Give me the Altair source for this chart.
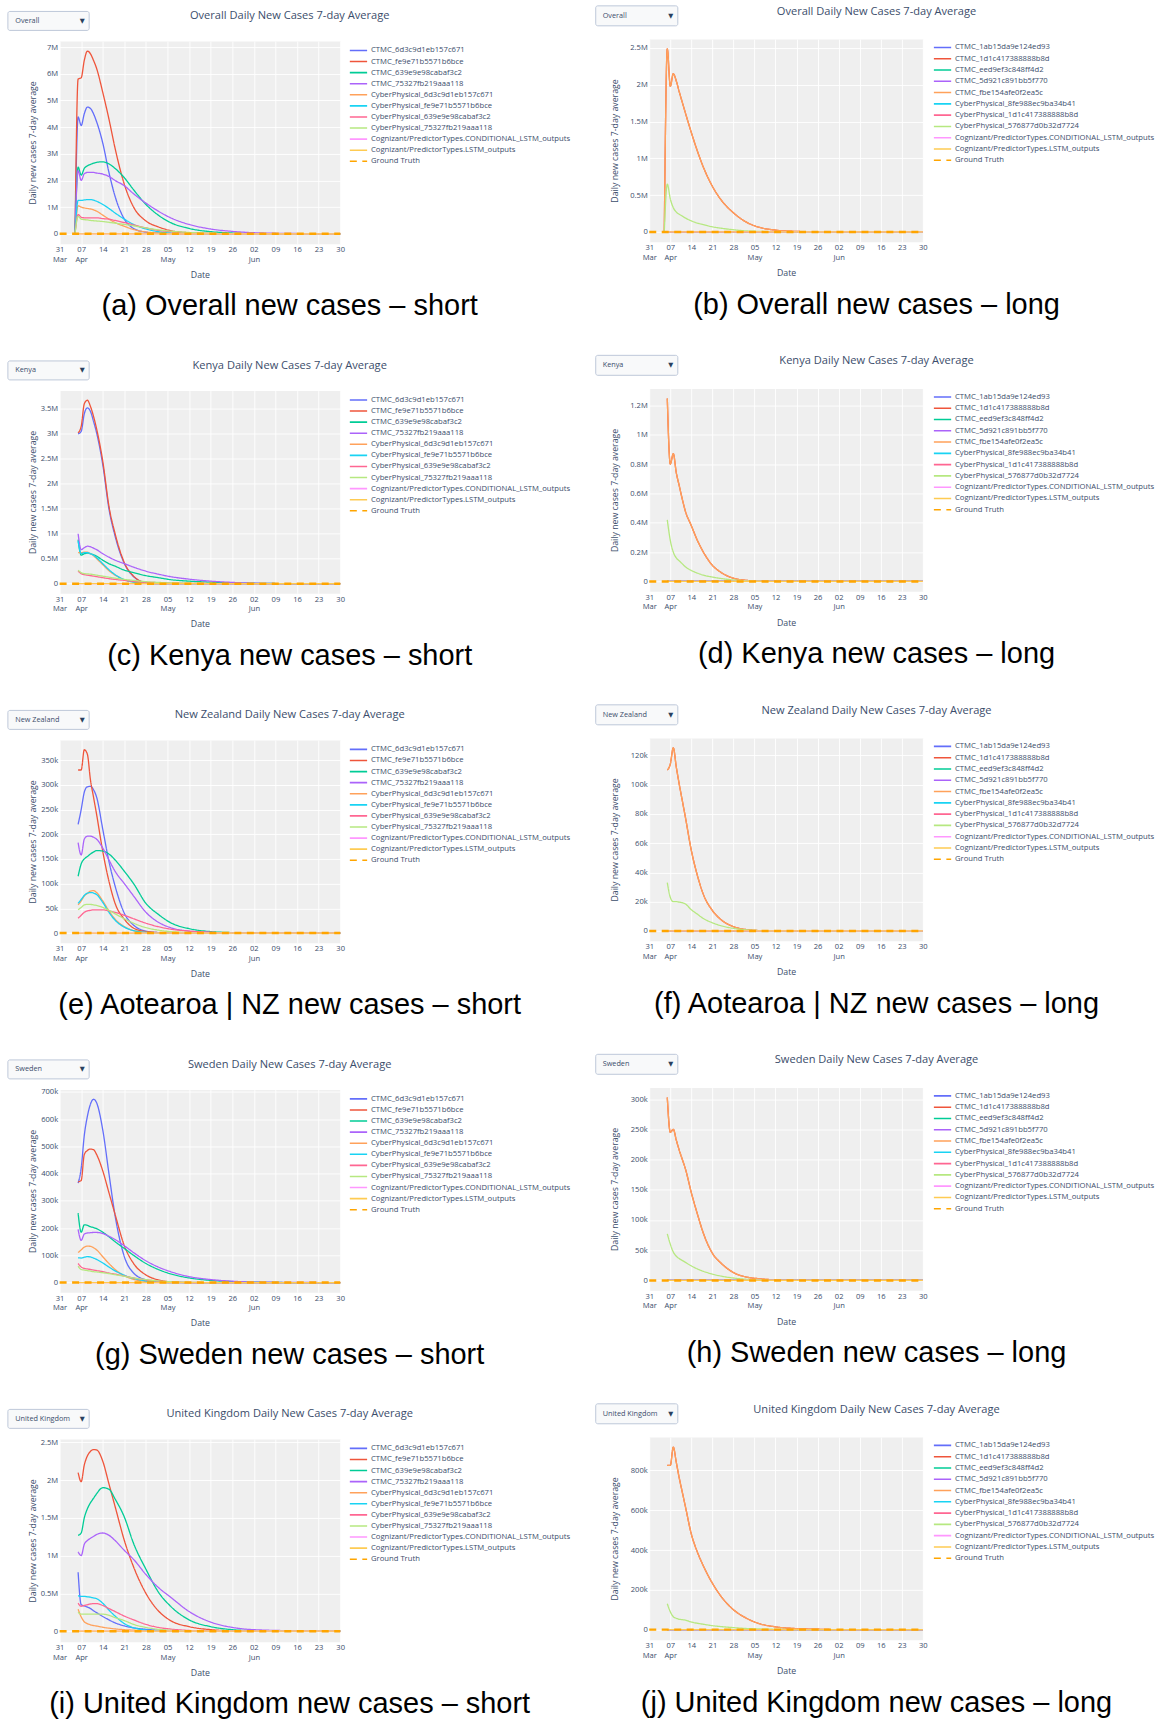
import altair as alt
import pandas as pd

# ---------------- data ----------------
BASE_DATE = "2021-03-31"
DAYS = [6, 7, 8, 9, 10, 11, 12, 14, 16, 18, 21, 24, 28, 32, 36, 42, 49, 56, 63, 77, 91]
DAYS_AGG = [5, 6, 7, 8, 9, 10, 11, 12, 14, 16, 18, 21, 24, 28, 32, 36, 42, 49, 56, 63, 77, 91]
GT_DAYS = [0, 91]
GT_VALUES = [0, 0]
ZERO = [0, 0, 0, 0, 0, 0, 0, 0, 0, 0, 0, 0, 0, 0, 0, 0, 0, 0, 0, 0, 0]
ZERO_AGG = [0, 0, 0, 0, 0, 0, 0, 0, 0, 0, 0, 0, 0, 0, 0, 0, 0, 0, 0, 0, 0, 0]

SHORT_NAMES = [
    "CTMC_6d3c9d1eb157c671", "CTMC_fe9e71b5571b6bce", "CTMC_639e9e98cabaf3c2",
    "CTMC_75327fb219aaa118", "CyberPhysical_6d3c9d1eb157c671",
    "CyberPhysical_fe9e71b5571b6bce", "CyberPhysical_639e9e98cabaf3c2",
    "CyberPhysical_75327fb219aaa118",
    "Cognizant/PredictorTypes.CONDITIONAL_LSTM_outputs",
    "Cognizant/PredictorTypes.LSTM_outputs",
]
LONG_NAMES = [
    "CTMC_1ab15da9e124ed93", "CTMC_1d1c417388888b8d", "CTMC_eed9ef3c848ff4d2",
    "CTMC_5d921c891bb5f770", "CTMC_fbe154afe0f2ea5c",
    "CyberPhysical_8fe988ec9ba34b41", "CyberPhysical_1d1c417388888b8d",
    "CyberPhysical_576877d0b32d7724",
    "Cognizant/PredictorTypes.CONDITIONAL_LSTM_outputs",
    "Cognizant/PredictorTypes.LSTM_outputs",
]
GT_NAME = "Ground Truth"

# values in thousands
# (a) Overall short  (DAYS_AGG)
A_BLUE = [0, 4380, 4060, 4500, 4750, 4700, 4500, 4200, 3400, 2300, 1400, 550, 200, 60, 20, 5, 0, 0, 0, 0, 0, 0]
A_RED = [0, 5800, 5850, 6500, 6850, 6750, 6500, 6200, 5300, 4300, 3200, 1850, 1000, 480, 260, 120, 40, 10, 0, 0, 0, 0]
A_GREEN = [0, 2500, 2200, 2450, 2550, 2600, 2650, 2680, 2700, 2620, 2450, 2100, 1650, 1100, 700, 420, 200, 80, 30, 10, 0, 0]
A_PURPLE = [0, 2370, 2000, 2250, 2300, 2300, 2300, 2280, 2240, 2150, 2000, 1800, 1500, 1150, 850, 600, 350, 180, 90, 40, 10, 0]
A_ORANGE = [0, 1050, 1000, 970, 950, 930, 900, 850, 700, 550, 420, 280, 160, 70, 30, 10, 0, 0, 0, 0, 0, 0]
A_CYAN = [0, 1250, 1250, 1270, 1280, 1280, 1260, 1220, 1100, 950, 780, 550, 350, 180, 80, 30, 10, 0, 0, 0, 0, 0]
A_PINK = [0, 720, 620, 600, 600, 600, 600, 600, 570, 550, 500, 420, 330, 220, 130, 80, 30, 10, 0, 0, 0, 0]
A_LGREEN = [0, 650, 550, 530, 520, 500, 490, 480, 460, 430, 400, 350, 300, 220, 150, 100, 50, 20, 0, 0, 0, 0]
# (b) Overall long (DAYS_AGG)
B_MAIN = [0, 2486, 1980, 2150, 2050, 1900, 1760, 1620, 1350, 1100, 880, 620, 430, 260, 140, 70, 25, 7, 2, 0, 0, 0]
B_LGREEN = [0, 650, 450, 330, 270, 240, 215, 190, 150, 120, 100, 70, 50, 30, 15, 8, 3, 1, 0, 0, 0, 0]
# (c) Kenya short
C_BLUE = [3000, 3050, 3400, 3520, 3450, 3250, 3020, 2380, 1500, 950, 400, 140, 20, 0, 0, 0, 0, 0, 0, 0, 0]
C_RED = [3020, 3150, 3600, 3673, 3550, 3350, 3100, 2450, 1550, 1000, 420, 150, 20, 0, 0, 0, 0, 0, 0, 0, 0]
C_GREEN = [880, 570, 600, 610, 600, 580, 550, 470, 400, 350, 270, 220, 160, 120, 80, 50, 30, 15, 8, 0, 0]
C_PURPLE = [1000, 680, 720, 750, 740, 710, 680, 600, 530, 470, 400, 330, 250, 190, 140, 90, 50, 25, 10, 0, 0]
C_ORANGE = [620, 620, 630, 630, 600, 560, 500, 380, 260, 170, 80, 30, 5, 0, 0, 0, 0, 0, 0, 0, 0]
C_CYAN = [850, 600, 620, 620, 600, 570, 520, 400, 280, 180, 80, 30, 5, 0, 0, 0, 0, 0, 0, 0, 0]
C_PINK = [250, 200, 180, 170, 160, 150, 140, 120, 100, 85, 65, 45, 30, 20, 12, 6, 2, 0, 0, 0, 0]
C_LGREEN = [270, 220, 200, 195, 190, 180, 170, 150, 130, 110, 85, 65, 40, 25, 15, 8, 3, 0, 0, 0, 0]
# (d) Kenya long
D_MAIN = [1247, 800, 870, 740, 650, 560, 480, 380, 280, 200, 110, 60, 22, 8, 3, 0, 0, 0, 0, 0, 0]
D_LGREEN = [420, 280, 200, 160, 140, 120, 100, 75, 57, 43, 30, 20, 10, 5, 2, 0, 0, 0, 0, 0, 0]
# (e) New Zealand short
E_BLUE = [220, 250, 285, 296, 297, 290, 275, 210, 145, 95, 40, 16, 4, 1, 0, 0, 0, 0, 0, 0, 0]
E_RED = [330, 330, 370.9, 362, 310, 275, 240, 165, 105, 60, 28, 10, 3, 1, 0, 0, 0, 0, 0, 0, 0]
E_GREEN = [115, 140, 150, 155, 160, 164, 167, 166, 160, 148, 125, 100, 60, 38, 21, 9, 3, 1, 0, 0, 0]
E_PURPLE = [183, 158, 190, 196, 196, 194, 190, 172, 148, 125, 100, 75, 42, 22, 11, 4, 1.5, 0, 0, 0, 0]
E_ORANGE = [57, 65, 75, 80, 85, 86, 82, 65, 45, 28, 13, 5, 1.5, 0, 0, 0, 0, 0, 0, 0, 0]
E_CYAN = [60, 68, 76, 81, 82, 81, 78, 62, 42, 26, 12, 5, 1.5, 0, 0, 0, 0, 0, 0, 0, 0]
E_PINK = [30, 36, 42, 45, 46, 47, 47, 47, 45, 42, 36, 29, 20, 13, 8, 4, 1.5, 0, 0, 0, 0]
E_LGREEN = [47, 52, 57, 58, 58, 57, 56, 52, 46, 39, 29, 20, 11, 6, 3, 1, 0, 0, 0, 0, 0]
# (f) New Zealand long
F_MAIN = [110, 114, 125.1, 112, 100, 89, 78, 55, 38, 25, 14, 7.5, 3, 1, 0.3, 0, 0, 0, 0, 0, 0]
F_LGREEN = [33, 23, 20, 20, 19.7, 19.3, 18.5, 14.5, 11.5, 8.5, 5.6, 3.5, 1.8, 0.8, 0.3, 0, 0, 0, 0, 0, 0]
# (g) Sweden short
G_BLUE = [365, 420, 540, 610, 655, 673, 660, 560, 400, 245, 95, 35, 10, 3, 0, 0, 0, 0, 0, 0, 0]
G_RED = [370, 375, 470, 485, 490, 488, 470, 410, 330, 250, 135, 70, 28, 10, 3, 0, 0, 0, 0, 0, 0]
G_GREEN = [255, 185, 212, 210, 205, 202, 198, 185, 168, 150, 125, 100, 70, 48, 32, 17, 8, 3.5, 1.5, 0, 0]
G_PURPLE = [195, 155, 178, 182, 183, 184, 184, 180, 170, 158, 135, 110, 80, 57, 40, 22, 11, 5, 2, 0.5, 0]
G_ORANGE = [110, 120, 130, 134, 133, 128, 120, 95, 70, 48, 25, 12, 4, 1, 0, 0, 0, 0, 0, 0, 0]
G_CYAN = [92, 90, 93, 95, 94, 90, 85, 72, 57, 43, 27, 15, 6, 2, 0, 0, 0, 0, 0, 0, 0]
G_PINK = [70, 57, 52, 50, 48, 46, 44, 40, 35, 31, 24, 17, 10, 5, 2.5, 0.5, 0, 0, 0, 0, 0]
G_LGREEN = [60, 48, 46, 44, 42, 40, 39, 36, 33, 29, 23, 17, 11, 6, 3, 1, 0, 0, 0, 0, 0]
# (h) Sweden long
H_MAIN = [302.7, 245, 250, 232, 215, 200, 185, 145, 110, 78, 45, 28, 13, 6, 3, 1, 0, 0, 0, 0, 0]
H_LGREEN = [77, 60, 47, 40, 36, 33, 30, 24, 19, 15, 10.5, 7, 4, 2, 1, 0, 0, 0, 0, 0, 0]
# (i) United Kingdom short
I_BLUE = [780, 350, 335, 320, 300, 270, 245, 195, 150, 110, 70, 44, 25, 13, 7, 3, 0, 0, 0, 0, 0]
I_RED = [2100, 1980, 2200, 2320, 2380, 2404, 2400, 2250, 1950, 1650, 1200, 850, 500, 270, 140, 60, 20, 5, 0, 0, 0]
I_GREEN = [1270, 1300, 1500, 1620, 1700, 1760, 1820, 1900, 1880, 1750, 1510, 1160, 820, 520, 330, 150, 60, 20, 7, 0, 0]
I_PURPLE = [1050, 1000, 1150, 1200, 1230, 1255, 1280, 1300, 1270, 1200, 1070, 950, 750, 580, 450, 260, 120, 50, 20, 5, 0]
I_ORANGE = [290, 190, 125, 100, 85, 75, 68, 52, 40, 30, 20, 13, 7, 3, 1, 0, 0, 0, 0, 0, 0]
I_CYAN = [470, 460, 460, 455, 450, 440, 430, 370, 280, 200, 100, 45, 15, 5, 0, 0, 0, 0, 0, 0, 0]
I_PINK = [370, 330, 340, 350, 360, 365, 365, 340, 300, 260, 200, 150, 90, 50, 28, 10, 3, 0, 0, 0, 0]
I_LGREEN = [250, 225, 225, 225, 225, 225, 225, 225, 210, 180, 140, 90, 50, 25, 12, 4, 0, 0, 0, 0, 0]
# (j) United Kingdom long
J_MAIN = [825, 825, 916.6, 840, 760, 690, 620, 480, 390, 320, 233, 165, 100, 60, 33, 14, 5, 2, 0, 0, 0]
J_LGREEN = [130, 90, 65, 57, 52, 50, 48, 38, 32, 27, 20, 15, 10, 6, 3.5, 1.5, 0, 0, 0, 0, 0]

X_TICKS = [(3, 31), (4, 7), (4, 14), (4, 21), (4, 28), (5, 5), (5, 12), (5, 19),
           (5, 26), (6, 2), (6, 9), (6, 16), (6, 23), (6, 30)]

LEFT_PANELS = [
    dict(region="Overall", caption="(a) Overall new cases \u2013 short", days=DAYS_AGG,
         series=[A_BLUE, A_RED, A_GREEN, A_PURPLE, A_ORANGE, A_CYAN, A_PINK, A_LGREEN, ZERO_AGG, ZERO_AGG],
         yticks=[0, 1000000, 2000000, 3000000, 4000000, 5000000, 6000000, 7000000],
         ydomain=[-375000, 7225000], unit="M"),
    dict(region="Kenya", caption="(c) Kenya new cases \u2013 short", days=DAYS,
         series=[C_BLUE, C_RED, C_GREEN, C_PURPLE, C_ORANGE, C_CYAN, C_PINK, C_LGREEN, ZERO, ZERO],
         yticks=[0, 500000, 1000000, 1500000, 2000000, 2500000, 3000000, 3500000],
         ydomain=[-193000, 3866000], unit="M"),
    dict(region="New Zealand", caption="(e) Aotearoa | NZ new cases \u2013 short", days=DAYS,
         series=[E_BLUE, E_RED, E_GREEN, E_PURPLE, E_ORANGE, E_CYAN, E_PINK, E_LGREEN, ZERO, ZERO],
         yticks=[0, 50000, 100000, 150000, 200000, 250000, 300000, 350000],
         ydomain=[-19600, 390500], unit="k"),
    dict(region="Sweden", caption="(g) Sweden new cases \u2013 short", days=DAYS,
         series=[G_BLUE, G_RED, G_GREEN, G_PURPLE, G_ORANGE, G_CYAN, G_PINK, G_LGREEN, ZERO, ZERO],
         yticks=[0, 100000, 200000, 300000, 400000, 500000, 600000, 700000],
         ydomain=[-35600, 708600], unit="k"),
    dict(region="United Kingdom", caption="(i) United Kingdom new cases \u2013 short", days=DAYS,
         series=[I_BLUE, I_RED, I_GREEN, I_PURPLE, I_ORANGE, I_CYAN, I_PINK, I_LGREEN, ZERO, ZERO],
         yticks=[0, 500000, 1000000, 1500000, 2000000, 2500000],
         ydomain=[-140000, 2544000], unit="M"),
]
RIGHT_PANELS = [
    dict(region="Overall", caption="(b) Overall new cases \u2013 long", days=DAYS_AGG,
         series=[ZERO_AGG, B_MAIN, ZERO_AGG, ZERO_AGG, B_MAIN, ZERO_AGG, ZERO_AGG, B_LGREEN, ZERO_AGG, ZERO_AGG],
         yticks=[0, 500000, 1000000, 1500000, 2000000, 2500000],
         ydomain=[-134000, 2620000], unit="M"),
    dict(region="Kenya", caption="(d) Kenya new cases \u2013 long", days=DAYS,
         series=[ZERO, D_MAIN, ZERO, ZERO, D_MAIN, ZERO, ZERO, D_LGREEN, ZERO, ZERO],
         yticks=[0, 200000, 400000, 600000, 800000, 1000000, 1200000],
         ydomain=[-67000, 1314000], unit="M"),
    dict(region="New Zealand", caption="(f) Aotearoa | NZ new cases \u2013 long", days=DAYS,
         series=[ZERO, F_MAIN, ZERO, ZERO, F_MAIN, ZERO, ZERO, F_LGREEN, ZERO, ZERO],
         yticks=[0, 20000, 40000, 60000, 80000, 100000, 120000],
         ydomain=[-6700, 131800], unit="k"),
    dict(region="Sweden", caption="(h) Sweden new cases \u2013 long", days=DAYS,
         series=[ZERO, H_MAIN, ZERO, ZERO, H_MAIN, ZERO, ZERO, H_LGREEN, ZERO, ZERO],
         yticks=[0, 50000, 100000, 150000, 200000, 250000, 300000],
         ydomain=[-16300, 319000], unit="k"),
    dict(region="United Kingdom", caption="(j) United Kingdom new cases \u2013 long", days=DAYS,
         series=[ZERO, J_MAIN, ZERO, ZERO, J_MAIN, ZERO, ZERO, J_LGREEN, ZERO, ZERO],
         yticks=[0, 200000, 400000, 600000, 800000],
         ydomain=[-50900, 967500], unit="k"),
]

# ---------------- styles ----------------
COLORS = ["#636EFA", "#EF553B", "#00CC96", "#AB63FA", "#FFA15A",
          "#19D3F3", "#FF6692", "#B6E880", "#FF97FF", "#FECB52"]
GT_COLOR = "#FFA500"
FONT = "Open Sans"
CAP_FONT = "Liberation Sans"
TXT = "#3b4d6b"
BG = "#EFEFEF"
SPACER_H = 1.2

LEFT_GEO = dict(W=281, H=203, legx=289.8, legy=5.5, rowpad=2.1, ytitle_x=-27, xtitle_y=30.7,
                dd=(-51.8, 29.6, -29.7, -10.7), dd_text_x=-44.4, dd_arrow_x=22.6, dd_y=-20.2,
                title_x=230.4, title_y=-24.7, cap_x=230.4, cap_y=274.6,
                marker=(519, -34 - SPACER_H))
RIGHT_GEO = dict(W=274, H=203, legx=284.2, legy=4.5, rowpad=2.3, ytitle_x=-35, xtitle_y=31.0,
                 dd=(-53.6, 28.6, -33.3, -13.3), dd_text_x=-46.6, dd_arrow_x=21.6, dd_y=-23.3,
                 title_x=227.6, title_y=-27.3, cap_x=227.6, cap_y=275.3,
                 marker=(-60, -34))

XLABEL_EXPR = ("(utcdate(datum.value) <= 7 || utcmonth(datum.value) == 2) ? "
               "[utcFormat(datum.value, '%d'), utcFormat(datum.value, '%b')] : "
               "utcFormat(datum.value, '%d')")


def iso(d):
    return (pd.Timestamp(BASE_DATE) + pd.Timedelta(days=d)).strftime("%Y-%m-%dT00:00:00Z")


def panel_data(names, series, days):
    rows = []
    for name, vals in zip(names, series):
        assert len(vals) == len(days), (name, len(vals), len(days))
        for d, v in zip(days, vals):
            rows.append({"date": iso(d), "series": name, "value": v * 1000})
    for d, v in zip(GT_DAYS, GT_VALUES):
        rows.append({"date": iso(d), "series": GT_NAME, "value": v})
    return pd.DataFrame(rows)


deco = pd.DataFrame({"k": [0]})


def text_mark(text, x, y, size, align="center", font=FONT, color=TXT):
    return alt.Chart(deco).mark_text(
        text=text, align=align, baseline="middle", font=font, fontSize=size, color=color
    ).encode(x=alt.value(x), y=alt.value(y))


def make_panel(p, names, g, with_marker=False):
    W, H = g["W"], g["H"]
    dom = names + [GT_NAME]
    df = panel_data(names, p["series"], p["days"])
    if p["unit"] == "M":
        yexpr = "datum.value == 0 ? '0' : format(datum.value / 1000000, '~g') + 'M'"
    else:
        yexpr = "datum.value == 0 ? '0' : format(datum.value / 1000, '~g') + 'k'"
    legend = alt.Legend(
        title=None, orient="none", legendX=g["legx"], legendY=g["legy"],
        symbolType="stroke", symbolSize=300, symbolStrokeWidth=1.6,
        labelFont=FONT, labelFontSize=7.7, labelColor=TXT, labelLimit=400,
        labelOffset=3, rowPadding=g["rowpad"], padding=0, clipHeight=7.7,
    )
    xaxis = alt.Axis(
        values=[alt.DateTime(year=2021, month=m, date=d, utc=True) for m, d in X_TICKS],
        labelExpr=XLABEL_EXPR, labelFont=FONT, labelFontSize=7.6, labelColor=TXT,
        labelLineHeight=9.4, labelPadding=2, ticks=False, tickSize=0, domain=False,
        grid=True, gridColor="white", gridWidth=0.9, labelAngle=0,
        labelOverlap=False, labelFlush=False, labelBaseline="top",
        title="Date", titleFont=FONT, titleFontSize=8.8, titleColor=TXT,
        titleFontWeight="normal", titleX=W / 2, titleY=g["xtitle_y"],
        titleAlign="center", titleBaseline="middle",
    )
    yaxis = alt.Axis(
        values=p["yticks"], labelExpr=yexpr, labelFont=FONT, labelFontSize=7.6,
        labelColor=TXT, labelPadding=2, ticks=False, tickSize=0, domain=False,
        grid=True, gridColor="white", gridWidth=0.9, labelOverlap=False,
        title="Daily new cases 7-day average", titleFont=FONT, titleFontSize=8.8,
        titleColor=TXT, titleFontWeight="normal", titleAngle=270,
        titleX=g["ytitle_x"], titleY=H / 2, titleAlign="center", titleBaseline="middle",
    )
    lines = alt.Chart(df).mark_line(interpolate="monotone").encode(
        x=alt.X("date:T", axis=xaxis,
                scale=alt.Scale(type="utc", nice=False, domain=[
                    alt.DateTime(year=2021, month=3, date=31, utc=True),
                    alt.DateTime(year=2021, month=6, date=30, utc=True)])),
        y=alt.Y("value:Q", axis=yaxis,
                scale=alt.Scale(domain=p["ydomain"], nice=False, zero=False)),
        color=alt.Color("series:N", legend=legend,
                        scale=alt.Scale(domain=dom, range=COLORS + [GT_COLOR])),
        strokeDash=alt.StrokeDash("series:N", legend=legend,
                                  scale=alt.Scale(domain=dom, range=[[1, 0]] * 10 + [[7, 5.5]])),
        strokeWidth=alt.when(alt.datum.series == GT_NAME).then(alt.value(2.5)).otherwise(alt.value(1.3)),
    )
    x0, x1, y0, y1 = g["dd"]
    dd_box = alt.Chart(deco).mark_rect(
        fill="#F8F9FA", stroke="#BEC8D9", strokeWidth=1, cornerRadius=2
    ).encode(x=alt.value(x0), x2=alt.value(x1), y=alt.value(y0), y2=alt.value(y1))
    dd_label = text_mark(p["region"], g["dd_text_x"], g["dd_y"], 7.3, align="left")
    dd_arrow = text_mark("\u25BC", g["dd_arrow_x"], g["dd_y"], 6.5, font="DejaVu Sans", color="#2a3f5f")
    title = text_mark(p["region"] + " Daily New Cases 7-day Average",
                      g["title_x"], g["title_y"], 11.1)
    caption = alt.Chart(deco).mark_text(
        text=p["caption"], align="center", baseline="alphabetic", font=CAP_FONT,
        fontSize=29, color="#000000"
    ).encode(x=alt.value(g["cap_x"]), y=alt.value(g["cap_y"]))
    layers = [lines, dd_box, dd_label, dd_arrow, title, caption]
    if with_marker:
        mx, my = g["marker"]
        layers.append(alt.Chart(deco).mark_rect(fill="white", strokeWidth=0).encode(
            x=alt.value(mx), x2=alt.value(mx + 1), y=alt.value(my), y2=alt.value(my + 1)))
    return alt.layer(*layers).properties(
        width=W, height=H, view=alt.ViewBackground(fill=BG, stroke="transparent")
    )


def indep(c):
    return c.resolve_scale(x="independent", y="independent", color="independent",
                           strokeDash="independent").resolve_legend(
        color="independent", strokeDash="independent")


lefts = [make_panel(p, SHORT_NAMES, LEFT_GEO, i == 0) for i, p in enumerate(LEFT_PANELS)]
rights = [make_panel(p, LONG_NAMES, RIGHT_GEO, i == 0) for i, p in enumerate(RIGHT_PANELS)]

spacer = alt.Chart(deco).mark_point(opacity=0).encode(
    x=alt.value(0), y=alt.value(0)
).properties(width=281, height=SPACER_H, view=alt.ViewBackground(stroke="transparent"))

left_inner = indep(alt.vconcat(*lefts, spacing=147, bounds="flush"))
left_col = indep(alt.vconcat(spacer, left_inner, spacing=0, bounds="flush"))
right_col = indep(alt.vconcat(*rights, spacing=147, bounds="flush"))

chart = indep(alt.hconcat(left_col, right_col, spacing=8.5, bounds="full")).properties(
    padding={"left": 6.7, "top": 2.9, "right": 4, "bottom": 4},
    background="white",
).configure_view(stroke="transparent")

chart.save("out.html", embed_options={"renderer": "svg", "actions": False})
